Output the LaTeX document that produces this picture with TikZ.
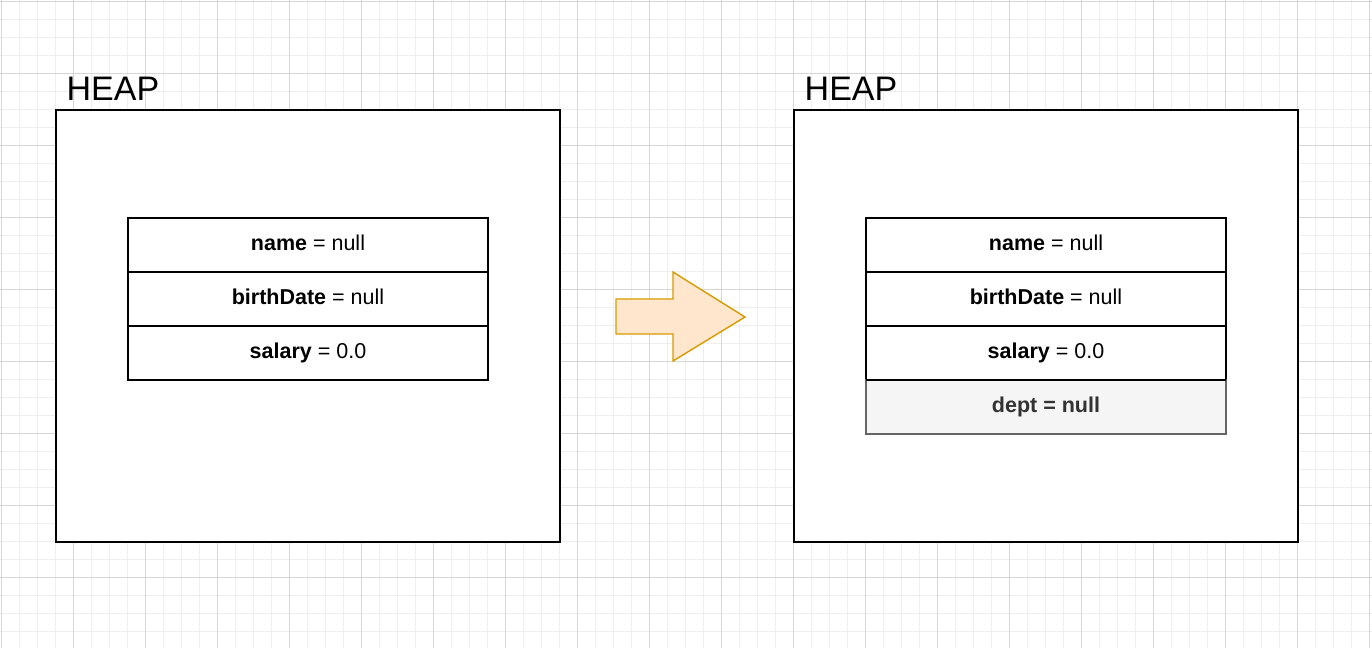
\documentclass[tikz,border=0pt]{standalone}
\usepackage{fontspec}
\setmainfont{Liberation Sans}
\definecolor{gridminor}{HTML}{EEEEEE}
\definecolor{gridmajor}{HTML}{D6D6D6}
\definecolor{arrowfill}{HTML}{FFE6CC}
\definecolor{arrowdraw}{HTML}{D79B00}
\definecolor{newfill}{HTML}{F5F5F5}
\definecolor{newdraw}{HTML}{666666}
\definecolor{newtext}{HTML}{333333}
\begin{document}
\begin{tikzpicture}[x=1pt,y=-1pt,
  heapbox/.style={draw=black,line width=1.6pt,fill=white},
  heaplabel/.style={anchor=base west,inner sep=0pt,font=\fontsize{34}{40}\selectfont},
  fieldrow/.style={draw=black,line width=1.6pt,fill=white,minimum width=360pt,minimum height=54pt,inner sep=0pt,outer sep=0pt,text height=15.5pt,text depth=4.5pt,font=\fontsize{21.5}{25}\selectfont},
  newrow/.style={fieldrow,draw=newdraw,fill=newfill,text=newtext,font=\fontsize{21.5}{25}\selectfont\bfseries},
  bigarrow/.style={draw=arrowdraw,fill=arrowfill,line width=1.4pt,line join=miter}
]
\useasboundingbox (0,0) rectangle (1372,648);
\fill[white] (0,0) rectangle (1372,648);
% grid
\foreach \i in {0,...,77} {
  \draw[gridminor,line width=1pt] ({1+18*\i},0) -- ({1+18*\i},648);
}
\foreach \j in {0,...,36} {
  \draw[gridminor,line width=1pt] (0,{1+18*\j}) -- (1372,{1+18*\j});
}
\foreach \i in {0,...,19} {
  \draw[gridmajor,line width=1pt] ({1+72*\i},0) -- ({1+72*\i},648);
}
\foreach \j in {0,...,9} {
  \draw[gridmajor,line width=1pt] (0,{1+72*\j}) -- (1372,{1+72*\j});
}
% left heap
\node[heaplabel] (heapL) at (66.5,100) {HEAP};
\draw[heapbox] (56,110) rectangle (560,542);
\node[fieldrow] (l1) at (308,245) {\textbf{name} = null};
\node[fieldrow] (l2) at (308,299) {\textbf{birthDate} = null};
\node[fieldrow] (l3) at (308,353) {\textbf{salary} = 0.0};
% arrow
\draw[bigarrow] (616,299) -- (673,299) -- (673,272) -- (745,317) -- (673,361) -- (673,334) -- (616,334) -- cycle;
% right heap
\node[heaplabel] (heapR) at (804.5,100) {HEAP};
\draw[heapbox] (794,110) rectangle (1298,542);
\node[fieldrow] (r1) at (1046,245) {\textbf{name} = null};
\node[fieldrow] (r2) at (1046,299) {\textbf{birthDate} = null};
\node[fieldrow] (r3) at (1046,353) {\textbf{salary} = 0.0};
\node[newrow] (r4) at (1046,407) {dept = null};
\draw[black,line width=1.6pt] (r3.south west) -- (r3.south east);
\end{tikzpicture}
\end{document}
